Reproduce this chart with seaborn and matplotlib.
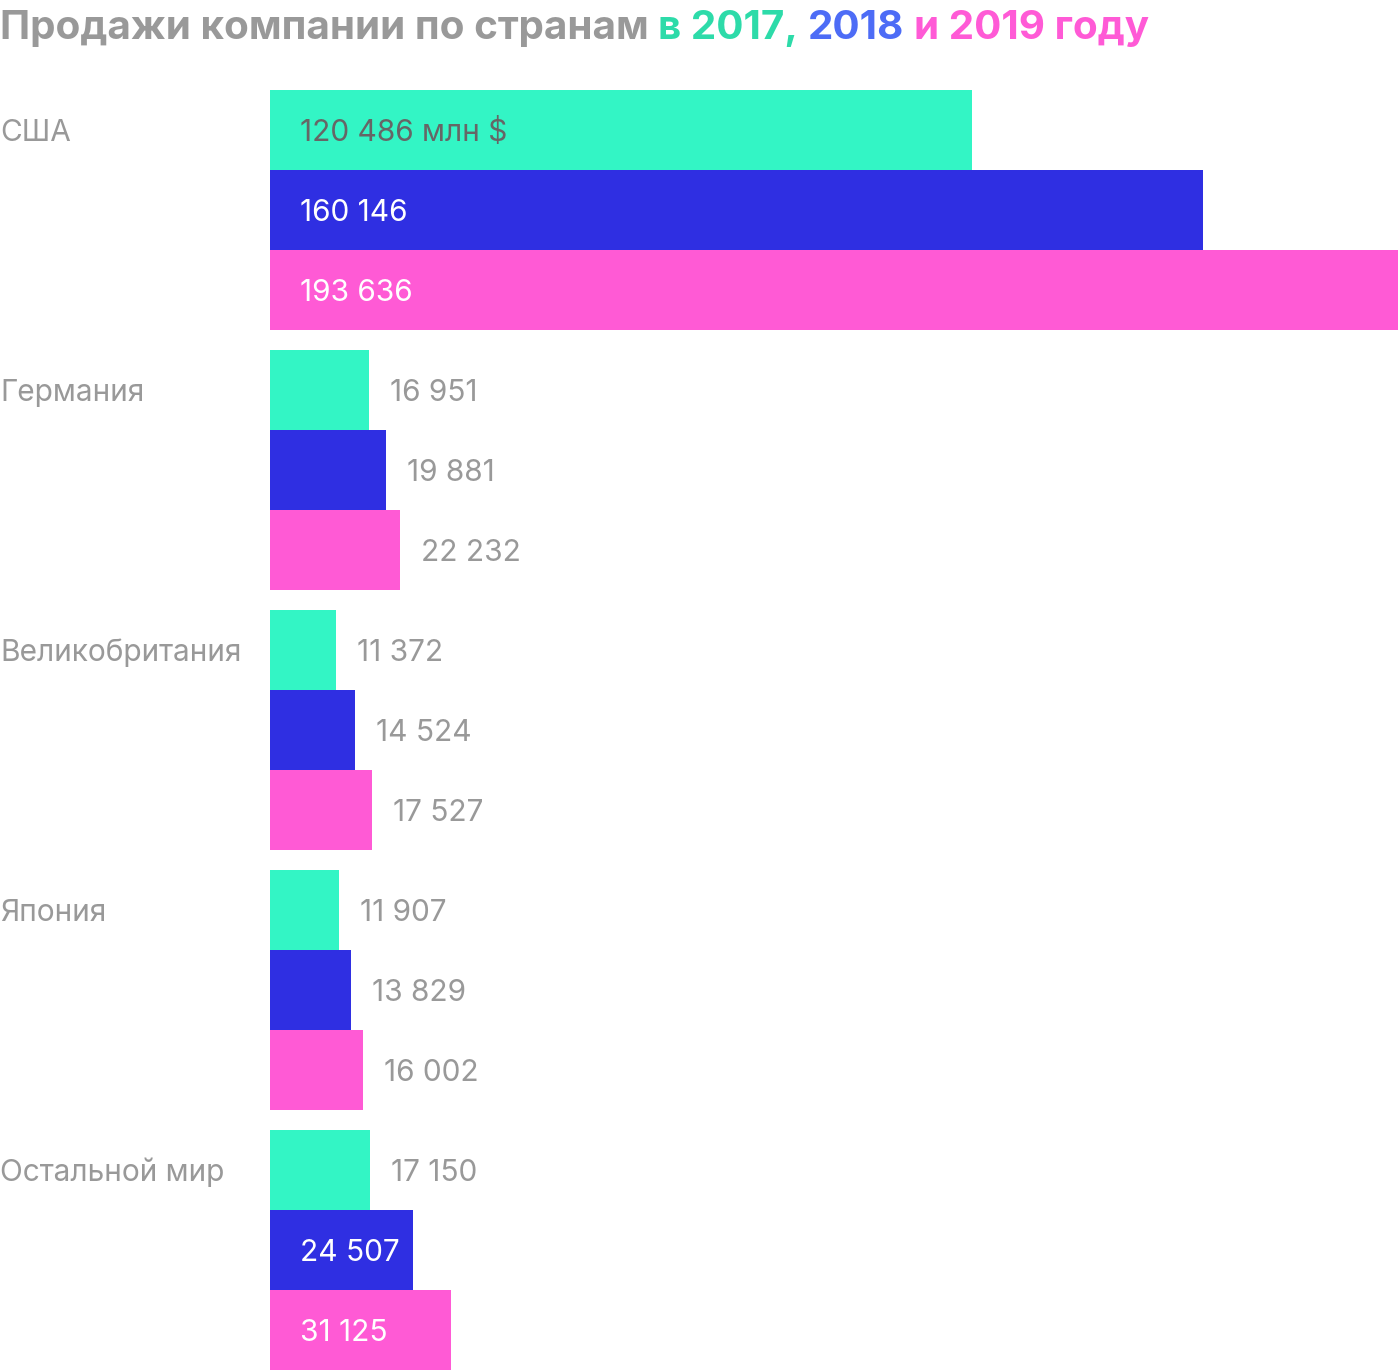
import matplotlib
matplotlib.use("Agg")
import matplotlib.pyplot as plt
import matplotlib.transforms as mtransforms
import seaborn as sns
import pandas as pd

countries = ["США", "Германия", "Великобритания", "Япония", "Остальной мир"]
years = ["2017", "2018", "2019"]
sales_2017 = [120486, 16951, 11372, 11907, 17150]
sales_2018 = [160146, 19881, 14524, 13829, 24507]
sales_2019 = [193636, 22232, 17527, 16002, 31125]
unit_suffix = " млн $"

title_parts = ["Продажи компании по странам ", "в 2017, ", "2018 ", "и 2019 году"]
title_colors = ["#999999", "#2DDBA9", "#4D6CF6", "#FF5AD6"]
bar_colors = ["#33F5C5", "#2F2FE2", "#FF5AD5"]

rows = []
for yr, vals in zip(years, [sales_2017, sales_2018, sales_2019]):
    for c, v in zip(countries, vals):
        rows.append({"country": c, "year": yr, "value": v})
df = pd.DataFrame(rows)

sns.set_theme(style="white")
plt.rcParams["font.family"] = ["Inter", "DejaVu Sans"]

W, H, DPI = 1400, 1372, 100
fig = plt.figure(figsize=(W / DPI, H / DPI), dpi=DPI)
ax = fig.add_axes([270 / W, 2 / H, 1128 / W, 1280 / H])

sns.barplot(data=df, y="country", x="value", hue="year", order=countries,
            hue_order=years, palette=bar_colors, orient="h", width=12 / 13,
            saturation=1, legend=False, ax=ax, errorbar=None, linewidth=0,
            edgecolor="none")
ax.set_xlim(0, max(sales_2019))
ax.set_ylim(len(countries) - 1 + 6 / 13, -6 / 13)
ax.set_axis_off()

label_fs = 21.5
inside_min_px = 135
gray = "#999999"
base_off = -11

for ci, cont in enumerate(ax.containers):
    for bj, bar in enumerate(cont):
        v = bar.get_width()
        yc = bar.get_y() + bar.get_height() / 2
        txt = f"{int(round(v)):,}".replace(",", " ")
        if ci == 0 and bj == 0:
            txt += unit_suffix
        x0 = ax.transData.transform((0, yc))[0]
        x1 = ax.transData.transform((v, yc))[0]
        if x1 - x0 > inside_min_px:
            color = "#666666" if ci == 0 else "white"
            ax.annotate(txt, xy=(0, yc), xytext=(30, base_off), textcoords="offset pixels",
                        ha="left", va="baseline", fontsize=label_fs, color=color)
        else:
            ax.annotate(txt, xy=(v, yc), xytext=(21, base_off), textcoords="offset pixels",
                        ha="left", va="baseline", fontsize=label_fs, color=gray)

# country labels aligned with the first bar of each group
first = ax.containers[0]
trans = mtransforms.blended_transform_factory(fig.transFigure, ax.transData)
for c, bar in zip(countries, first):
    yc = bar.get_y() + bar.get_height() / 2
    ax.annotate(c, xy=(0, yc), xycoords=trans, xytext=(0, base_off),
                textcoords="offset pixels", ha="left", va="baseline",
                fontsize=label_fs, color=gray, annotation_clip=False)

# multi-coloured title
fig.canvas.draw()
renderer = fig.canvas.get_renderer()
title_fs = 29.1
ty = 1 - 39 / H

def text_w(s):
    t = fig.text(0, 0, s, fontsize=title_fs, fontweight="bold")
    w = t.get_window_extent(renderer).width
    t.remove()
    return w

wx = text_w("x")
prefix = ""
for part, col in zip(title_parts, title_colors):
    xpix = (text_w(prefix + "x") - wx) if prefix else 0
    fig.text(xpix / W, ty, part.rstrip(), fontsize=title_fs, fontweight="bold",
             color=col, ha="left", va="baseline")
    prefix += part

fig.savefig("out.png", dpi=DPI)
